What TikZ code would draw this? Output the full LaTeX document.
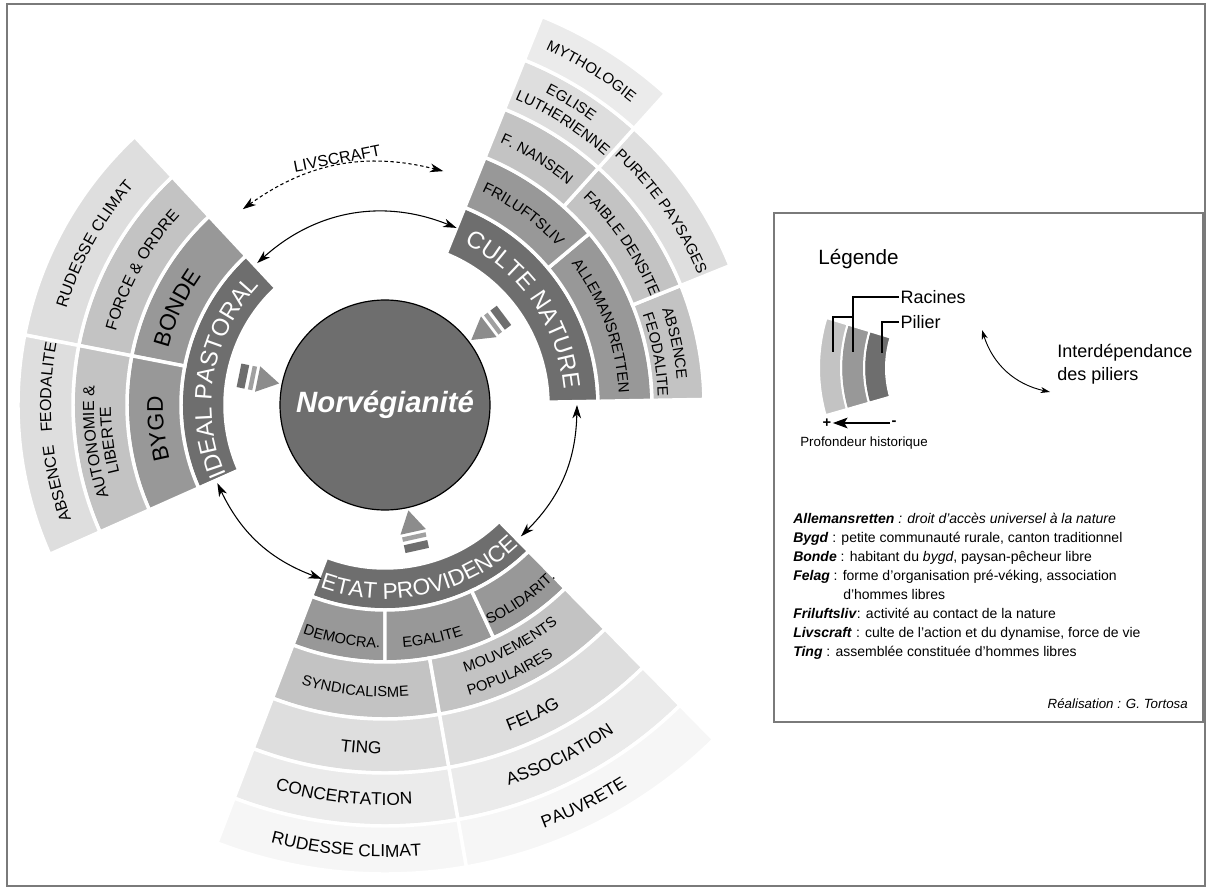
\documentclass[tikz,border=0pt]{standalone}
\usepackage{fontspec}
\setmainfont{Liberation Sans}
\usetikzlibrary{arrows.meta,decorations.text}

\definecolor{pilgray}{HTML}{6E6E6E}
\definecolor{rootA}{HTML}{989898}
\definecolor{rootB}{HTML}{C3C3C3}
\definecolor{rootC}{HTML}{DEDEDE}
\definecolor{rootD}{HTML}{EBEBEB}
\definecolor{rootE}{HTML}{F6F6F6}
\definecolor{markdark}{HTML}{6E6E6E}
\definecolor{markmid}{HTML}{8C8C8C}
\definecolor{marklight}{HTML}{A0A0A0}
\definecolor{framegray}{HTML}{7A7A7A}

% annular sector: start angle, end angle, inner radius, outer radius, options
\newcommand{\secteur}[5]{\filldraw[sect,#5] (#1:#3) arc[start angle=#1,end angle=#2,radius=#3]
  -- (#2:#4) arc[start angle=#2,end angle=#1,radius=#4] -- cycle;}
% curved labels: centre angle, baseline radius, format, text
\newcommand{\cwlabel}[4]{\path[decorate,decoration={text along path,text align=center,text={|#3|#4}}]
  ({#1+50}:#2) arc[start angle={#1+50},end angle={#1-50},radius=#2];}
\newcommand{\ccwlabel}[4]{\path[decorate,decoration={text along path,text align=center,text={|#3|#4}}]
  ({#1-50}:#2) arc[start angle={#1-50},end angle={#1+50},radius=#2];}
\newcommand{\pilfont}{\color{white}\fontsize{18}{20}\selectfont}
\newcommand{\etatfont}{\color{white}\fontsize{17}{19}\selectfont}
\newcommand{\bigfont}{\fontsize{17}{19}\selectfont}
\newcommand{\ringfont}{\fontsize{12}{14}\selectfont}
\newcommand{\natfont}{\fontsize{11.3}{13}\selectfont}
\newcommand{\smallfont}{\fontsize{11}{13}\selectfont}
\newcommand{\largefont}{\fontsize{13}{15}\selectfont}

\begin{document}
\begin{tikzpicture}[x=0.75pt, y=0.75pt,
    sect/.style={draw=white, line width=2.6pt},
    arr/.style={{Stealth[length=10pt,width=6.5pt,inset=3pt]}-{Stealth[length=10pt,width=6.5pt,inset=3pt]}, line width=0.8pt},
    livarr/.style={arr, dash pattern=on 2.5pt off 2pt},
    smallarr/.style={{Stealth[length=7pt,width=4.5pt,inset=2pt]}-{Stealth[length=7pt,width=4.5pt,inset=2pt]}, line width=0.7pt},
    callout/.style={line width=0.9pt},
    lgd/.style={inner sep=0pt, font=\fontsize{13.5}{17}\selectfont}]
  \useasboundingbox (0,0) rectangle (1212,890);
  \draw[framegray, line width=1.5pt] (7,4) rectangle (1205,886);

  \begin{scope}[shift={(385,485)}]
    % ideal pastoral
    \secteur{133}{204}{160}{204}{fill=pilgray}
    \secteur{133}{169}{204}{258}{fill=rootA}
    \secteur{169}{204}{204}{258}{fill=rootA}
    \secteur{133}{169}{258}{312}{fill=rootB}
    \secteur{169}{204}{258}{312}{fill=rootB}
    \secteur{133}{169}{312}{367}{fill=rootC}
    \secteur{169}{204}{312}{367}{fill=rootC}
    % culte nature
    \secteur{1}{68}{163}{213}{fill=pilgray}
    \secteur{1}{40}{213}{267}{fill=rootA}
    \secteur{40}{68}{213}{267}{fill=rootA}
    \secteur{1}{22}{267}{319}{fill=rootB}
    \secteur{22}{48}{267}{319}{fill=rootB}
    \secteur{48}{68}{267}{319}{fill=rootB}
    \secteur{22}{48}{319}{372}{fill=rootC}
    \secteur{48}{68}{319}{372}{fill=rootC}
    \secteur{48}{68}{372}{419}{fill=rootD}
    % etat providence
    \secteur{249}{314.5}{163}{205}{fill=pilgray}
    \secteur{249}{270}{205}{257}{fill=rootA}
    \secteur{270}{295}{205}{257}{fill=rootA}
    \secteur{295}{314.5}{205}{257}{fill=rootA}
    \secteur{249}{280}{257}{314}{fill=rootB}
    \secteur{280}{314.5}{257}{314}{fill=rootB}
    \secteur{249}{280}{314}{368}{fill=rootC}
    \secteur{280}{314.5}{314}{368}{fill=rootC}
    \secteur{249}{280}{368}{421}{fill=rootD}
    \secteur{280}{314.5}{368}{421}{fill=rootD}
    \secteur{249}{280}{421}{469}{fill=rootE}
    \secteur{280}{314.5}{421}{469}{fill=rootE}

    % markers towards the centre
    \foreach \a in {168.5,37,282.5}{
      \begin{scope}[rotate=\a]
        \fill[markdark] (141,-12) rectangle (149,12);
        \fill[marklight] (133,-12) rectangle (137.5,12);
        \fill[markmid] (108,0) -- (130,13) -- (130,-13) -- cycle;
      \end{scope}
    }

    \node[circle, draw=black, line width=0.9pt, fill=pilgray, minimum size=157.5pt, inner sep=0pt,
      text=white, font=\fontsize{22}{24}\selectfont\bfseries\itshape] (norv) at (0,0) {Norvégianité};

    % links between the pillars
    \coordinate (ipTop) at (132:191);
    \coordinate (cnTop) at (68:191);
    \coordinate (ipBot) at (205:185);
    \coordinate (epLeft) at (250:185);
    \coordinate (cnBot) at (0:192);
    \coordinate (epRight) at (316:189);
    \coordinate (livA) at (126:242);
    \coordinate (livB) at (76:241);
    \draw[arr] (ipTop) to[bend left=32] (cnTop);
    \draw[livarr] (livA) to[bend left=25] (livB);
    \draw[arr] (ipBot) to[bend right=22] (epLeft);
    \draw[arr] (cnBot) to[bend left=22] (epRight);
    \node[inner sep=0pt, rotate=11, font=\ringfont] (livscraft) at (101:251) {LIVSCRAFT};

    % labels, ideal pastoral
    \cwlabel{170}{173.5}{\pilfont}{IDEAL PASTORAL}
    \cwlabel{155}{224}{\bigfont}{BONDE}
    \cwlabel{186}{222}{\bigfont}{BYGD}
    \cwlabel{151}{279}{\ringfont}{FORCE {\&} ORDRE}
    \cwlabel{187.3}{291}{\ringfont}{AUTONOMIE {\&}}
    \cwlabel{187.3}{274}{\ringfont}{LIBERTE}
    \cwlabel{151}{333}{\ringfont}{RUDESSE CLIMAT}
    \cwlabel{193.5}{334}{\ringfont}{ABSENCE}
    \cwlabel{177}{334}{\ringfont}{FEODALITE}
    % labels, culte nature
    \cwlabel{34.5}{179.5}{\pilfont}{CULTE NATURE}
    \cwlabel{54}{234}{\natfont}{FRILUFTSLIV}
    \cwlabel{20}{234}{\natfont}{ALLEMANSRETTEN}
    \cwlabel{58.3}{286}{\natfont}{F. NANSEN}
    \cwlabel{34.3}{287}{\natfont}{FAIBLE DENSITE}
    \cwlabel{12}{293}{\natfont}{ABSENCE}
    \cwlabel{10.5}{273}{\natfont}{FEODALITE}
    \cwlabel{35}{339}{\natfont}{PURETE PAYSAGES}
    \cwlabel{58.4}{351}{\natfont}{EGLISE}
    \cwlabel{57.8}{332}{\natfont}{LUTHERIENNE}
    \cwlabel{58.3}{390}{\natfont}{MYTHOLOGIE}
    % labels, etat providence
    \ccwlabel{282}{194}{\etatfont}{ETAT PROVIDENCE}
    \ccwlabel{259.5}{243}{\smallfont}{DEMOCRA.}
    \ccwlabel{281.5}{243}{\smallfont}{EGALITE}
    \ccwlabel{305}{243}{\smallfont}{SOLIDARIT.}
    \ccwlabel{264}{292}{\smallfont}{SYNDICALISME}
    \ccwlabel{297.5}{279}{\smallfont}{MOUVEMENTS}
    \ccwlabel{295}{302}{\smallfont}{POPULAIRES}
    \ccwlabel{266}{349}{\largefont}{TING}
    \ccwlabel{295.5}{349}{\largefont}{FELAG}
    \ccwlabel{264}{400}{\largefont}{CONCERTATION}
    \ccwlabel{296.5}{400}{\largefont}{ASSOCIATION}
    \ccwlabel{265}{452}{\largefont}{RUDESSE CLIMAT}
    \ccwlabel{296.5}{452}{\largefont}{PAUVRETE}
  \end{scope}

  % legend
  \draw[framegray, line width=1.1pt] (774,677) rectangle (1203,168);
  \node[anchor=base west, lgd, font=\fontsize{15.5}{18}\selectfont] (legende) at (818,625) {Légende};
  \begin{scope}[shift={(990,522)}]
    \secteur{163}{196}{104}{126}{fill=pilgray, line width=1.5pt}
    \secteur{163}{196}{126}{149}{fill=rootA, line width=1.5pt}
    \secteur{163}{196}{149}{171}{fill=rootB, line width=1.5pt}
  \end{scope}
  \node[anchor=west, lgd, inner sep=1pt] (racines) at (899,593) {Racines};
  \node[anchor=west, lgd, inner sep=1pt] (pilier) at (899,568) {Pilier};
  \coordinate (rootTipA) at (833,538);
  \coordinate (rootTipB) at (853,538);
  \coordinate (rootKnee) at (853,573);
  \coordinate (pilTip) at (882,537);
  \draw[callout] (racines.west) -| (rootTipB);
  \draw[callout] (rootKnee) -| (rootTipA);
  \draw[callout] (pilier.west) -| (pilTip);
  \node[inner sep=1pt, font=\fontsize{11}{12}\selectfont\bfseries] (plus) at (827,467) {+};
  \node[inner sep=1pt, font=\fontsize{11}{12}\selectfont\bfseries] (minus) at (894,467) {-};
  \draw[-{Stealth[length=11pt,width=8pt,inset=2.5pt]}, line width=1.1pt] (minus.west) -- (plus.east);
  \node[inner sep=0pt, font=\fontsize{10}{12}\selectfont] (profondeur) at (864,447) {Profondeur historique};
  \coordinate (intA) at (982,560);
  \coordinate (intB) at (1050,498);
  \draw[smallarr] (intA) to[bend right=30] (intB);
  \node[anchor=north west, align=left, lgd] (interdep) at (1057,546) {Interdépendance\\des piliers};
  \node[anchor=north west, align=left, inner sep=0pt, font=\fontsize{10.5}{14.25}\selectfont] (glossaire) at (793,377)
    {\textbf{\textit{Allemansretten}}\textit{ : droit d'accès universel à la nature}\\
     \textbf{\textit{Bygd}} : petite communauté rurale, canton traditionnel\\
     \textbf{\textit{Bonde}} : habitant du \textit{bygd}, paysan-pêcheur libre\\
     \textbf{\textit{Felag}} : forme d'organisation pré-véking, association\\
     \hspace*{37.5pt}d'hommes libres\\
     \textbf{\textit{Friluftsliv}}: activité au contact de la nature\\
     \textbf{\textit{Livscraft}} : culte de l'action et du dynamise, force de vie\\
     \textbf{\textit{Ting}} : assemblée constituée d'hommes libres};
  \node[anchor=base east, inner sep=0pt, font=\fontsize{10}{12}\selectfont\itshape] (realisation) at (1188,182) {Réalisation : G. Tortosa};
\end{tikzpicture}
\end{document}
